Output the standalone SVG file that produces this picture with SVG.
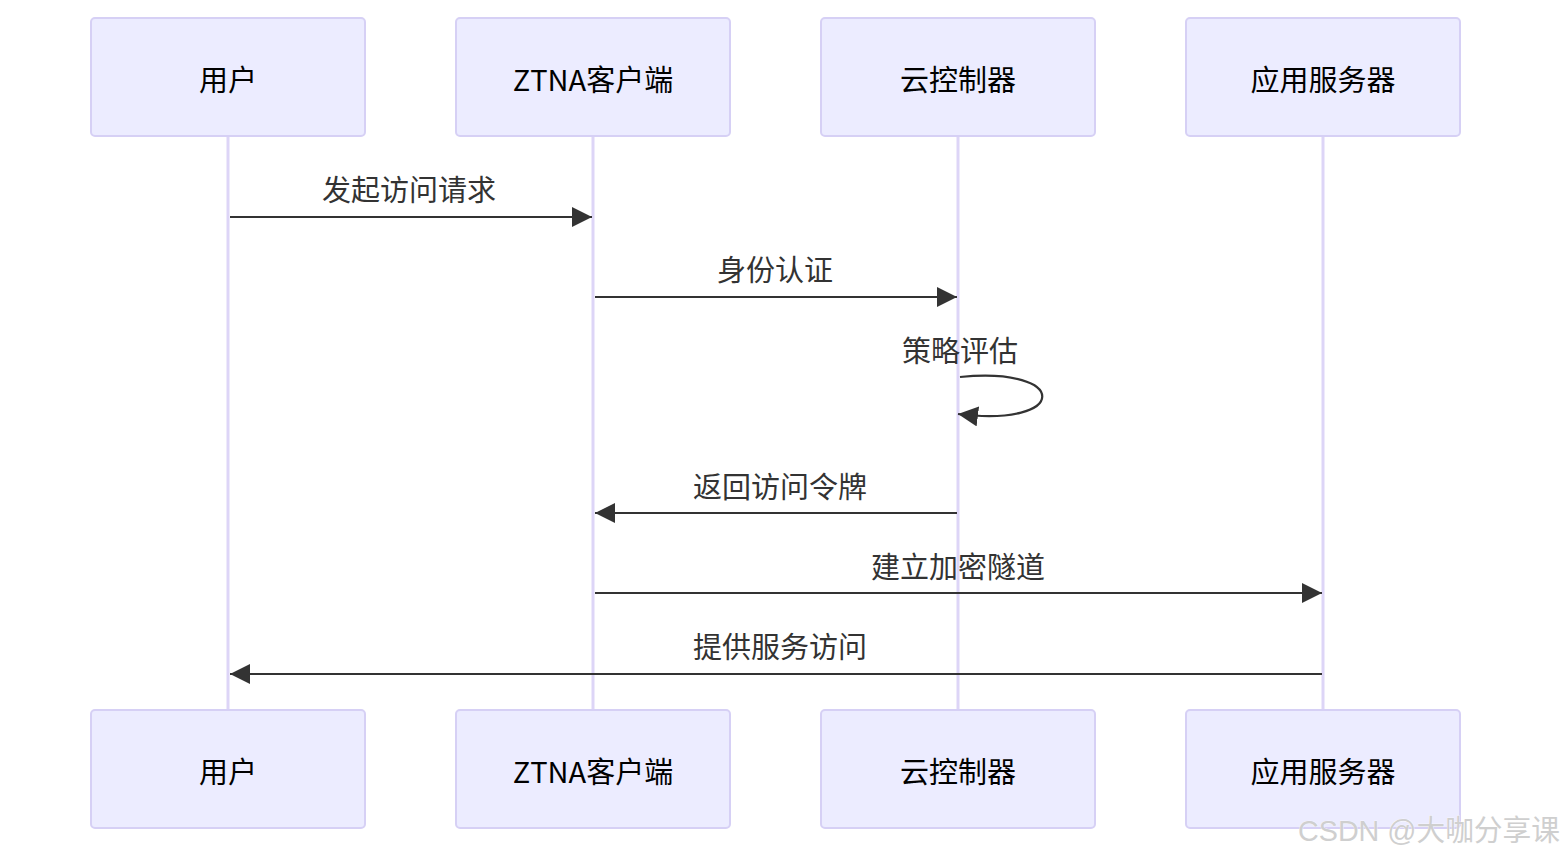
<svg xmlns="http://www.w3.org/2000/svg" width="1568" height="858" viewBox="0 0 1568 858">
<style>
.actor{fill:#ECECFF;stroke:#D6D0F5;stroke-width:2}
.atext{font-family:"Noto Sans CJK SC","Liberation Sans",sans-serif;font-size:29px;fill:#000;text-anchor:middle;dominant-baseline:central}
.life{stroke:#DDD5F7;stroke-width:3}
.msg{stroke:#333;stroke-width:2.2;fill:none}
.mtext{font-family:"Noto Sans CJK SC","Liberation Sans",sans-serif;font-size:29px;fill:#333;text-anchor:middle}
.wm{font-family:"Liberation Sans","Noto Sans CJK SC",sans-serif;font-size:29px;fill:#cfcfcf;stroke:#fff;stroke-width:0.6;paint-order:stroke}
</style>
<defs>
<marker id="arr" viewBox="0 0 20 20" refX="20" refY="10" markerWidth="20" markerHeight="20" markerUnits="userSpaceOnUse" orient="auto">
<path d="M0,0 L20,10 L0,20 Z" fill="#333"/>
</marker>
</defs>
<rect width="1568" height="858" fill="#fff"/>
<g id="lifelines">
<line class="life" x1="228" y1="136" x2="228" y2="710"/>
<line class="life" x1="593" y1="136" x2="593" y2="710"/>
<line class="life" x1="958" y1="136" x2="958" y2="710"/>
<line class="life" x1="1323" y1="136" x2="1323" y2="710"/>
</g>
<g id="actor-user-top"><rect class="actor" x="91" y="18" width="274" height="118" rx="4"/><text class="atext" x="228" y="78">用户</text></g>
<g id="actor-ztna-top"><rect class="actor" x="456" y="18" width="274" height="118" rx="4"/><text class="atext" x="593" y="78">ZTNA客户端</text></g>
<g id="actor-cloud-top"><rect class="actor" x="821" y="18" width="274" height="118" rx="4"/><text class="atext" x="958" y="78">云控制器</text></g>
<g id="actor-app-top"><rect class="actor" x="1186" y="18" width="274" height="118" rx="4"/><text class="atext" x="1323" y="78">应用服务器</text></g>
<g id="actor-user-bottom"><rect class="actor" x="91" y="710" width="274" height="118" rx="4"/><text class="atext" x="228" y="770">用户</text></g>
<g id="actor-ztna-bottom"><rect class="actor" x="456" y="710" width="274" height="118" rx="4"/><text class="atext" x="593" y="770">ZTNA客户端</text></g>
<g id="actor-cloud-bottom"><rect class="actor" x="821" y="710" width="274" height="118" rx="4"/><text class="atext" x="958" y="770">云控制器</text></g>
<g id="actor-app-bottom"><rect class="actor" x="1186" y="710" width="274" height="118" rx="4"/><text class="atext" x="1323" y="770">应用服务器</text></g>
<g id="connectors">
<line class="msg" x1="230" y1="217" x2="592" y2="217" marker-end="url(#arr)"/>
<text class="mtext" x="409" y="201">发起访问请求</text>
<line class="msg" x1="595" y1="297" x2="957" y2="297" marker-end="url(#arr)"/>
<text class="mtext" x="775" y="281">身份认证</text>
<path class="msg" d="M960,377 C1070,366 1070,428 958,414" marker-end="url(#arr)"/>
<text class="mtext" x="960" y="362">策略评估</text>
<line class="msg" x1="957" y1="513" x2="595" y2="513" marker-end="url(#arr)"/>
<text class="mtext" x="780" y="498">返回访问令牌</text>
<line class="msg" x1="595" y1="593" x2="1322" y2="593" marker-end="url(#arr)"/>
<text class="mtext" x="958" y="578">建立加密隧道</text>
<line class="msg" x1="1322" y1="674" x2="230" y2="674" marker-end="url(#arr)"/>
<text class="mtext" x="780" y="658">提供服务访问</text>
</g>
<text class="wm" x="1298" y="841" textLength="262" lengthAdjust="spacingAndGlyphs">CSDN @大咖分享课</text>
</svg>
